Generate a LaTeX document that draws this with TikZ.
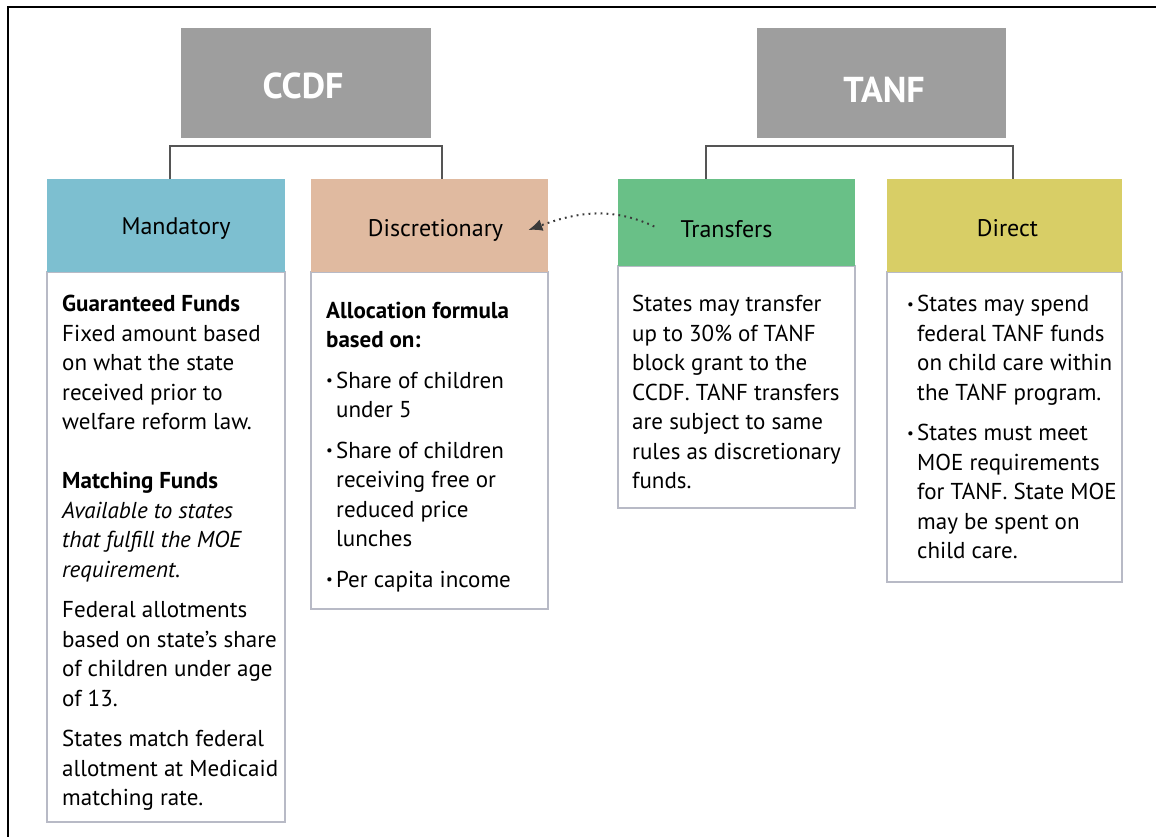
\documentclass[tikz,border=0pt]{standalone}
\usepackage{fontspec}
\setmainfont{PT Sans}
\usetikzlibrary{arrows.meta}
\definecolor{topgray}{HTML}{9E9E9E}
\definecolor{mandblue}{HTML}{7DBFD0}
\definecolor{discpeach}{HTML}{E0BAA0}
\definecolor{transgreen}{HTML}{69C087}
\definecolor{diryellow}{HTML}{D8CE66}
\definecolor{boxedge}{HTML}{B8BAC6}
\definecolor{connline}{HTML}{555555}
\definecolor{arrowgray}{HTML}{3A3A3A}
\newcommand\bodyfont{\fontsize{23}{29.5}\selectfont}
\newcommand\bul{\makebox[10pt][l]{\raisebox{2.5pt}{\fontsize{15}{15}\selectfont\textbullet}}}
\newcommand\ind{\hspace*{10pt}}
\begin{document}
\begin{tikzpicture}[x=1pt,y=-1pt,
  topbox/.style={fill=topgray, draw=none, inner sep=0pt, outer sep=0pt, anchor=north west},
  toplabel/.style={inner sep=0pt, text=white, font=\fontsize{36}{40}\selectfont\bfseries},
  hdrbox/.style={draw=none, inner sep=0pt, outer sep=0pt, anchor=north west},
  bodybox/.style={draw=boxedge, line width=1.3pt, fill=white, inner sep=0pt, outer sep=0pt, anchor=north west},
  hdrlabel/.style={inner sep=0pt, font=\fontsize{24}{28}\selectfont},
  bodytext/.style={inner sep=0pt, anchor=north west, align=left, font=\bodyfont},
  conn/.style={draw=connline, line width=1.4pt},
  transferarrow/.style={draw=arrowgray, line width=2pt, dash pattern=on 1.8pt off 4.2pt,
    -{Latex[length=14pt,width=12pt]}}
]
\clip (0,0) rectangle (1156,836);
\fill[white] (0,0) rectangle (1156,836);
% outer frame (right and bottom edges lie outside the picture)
\draw[line width=1.6pt, black] (8,840) -- (8,7) -- (1160,7);

% top boxes
\node[topbox, minimum width=250pt, minimum height=110pt] (ccdf) at (181,28) {};
\node[topbox, minimum width=249pt, minimum height=110pt] (tanf) at (757,28) {};
\node[toplabel] (ccdfL) at (303,86) {CCDF};
\node[toplabel] (tanfL) at (884,89.5) {TANF};

% body boxes
\node[bodybox, minimum width=238pt, minimum height=550pt] (mandB) at (47,272) {};
\node[bodybox, minimum width=237pt, minimum height=337pt] (discB) at (311,272) {};
\node[bodybox, minimum width=237pt, minimum height=242pt] (transB) at (618,266) {};
\node[bodybox, minimum width=235pt, minimum height=310pt] (dirB) at (887,272) {};

% header boxes
\node[hdrbox, fill=mandblue, minimum width=238pt, minimum height=93pt] (mandH) at (47,179) {};
\node[hdrbox, fill=discpeach, minimum width=237pt, minimum height=93pt] (discH) at (311,179) {};
\node[hdrbox, fill=transgreen, minimum width=237pt, minimum height=87pt] (transH) at (618,179) {};
\node[hdrbox, fill=diryellow, minimum width=235pt, minimum height=93pt] (dirH) at (887,179) {};

% header labels
\node[hdrlabel] (mandL) at (176,229) {Mandatory};
\node[hdrlabel] (discL) at (435.5,230.5) {Discretionary};
\node[hdrlabel] (transL) at (726.5,229.5) {Transfers};
\node[hdrlabel] (dirL) at (1007.5,228.5) {Direct};

% connectors
\draw[conn] ([xshift=4pt]mandH.north) |- ([yshift=-8pt]ccdf.south) -| ([xshift=12.5pt]discH.north);
\draw[conn] ([xshift=-30.5pt]transH.north) |- ([yshift=-8pt]tanf.south) -| ([xshift=8.5pt]dirH.north);

% transfer arrow
\coordinate (arrowstart) at ([xshift=-26pt,yshift=3pt]transL.west);
\draw[transferarrow] (arrowstart) to[out=155,in=20] ([xshift=25pt,yshift=0.5pt]discL.east);

% body texts
\node[bodytext] (mandT) at (62,295) {%
\textbf{Guaranteed Funds}\\
Fixed amount based\\
on what the state\\
received prior to\\
welfare reform law.\\[29.5pt]
\textbf{Matching Funds}\\
\textit{Available to states}\\
\textit{that fulfill the MOE}\\
\textit{requirement}.\\[11pt]
Federal allotments\\
based on state’s share\\
of children under age\\
of 13.\\[11pt]
States match federal\\
allotment at Medicaid\\
matching rate.};

\node[bodytext] (discT) at (326,301.5) {%
\textbf{Allocation formula}\\
\textbf{based on:}\\[11pt]
\bul Share of children\\
\ind under 5\\[11pt]
\bul Share of children\\
\ind receiving free or\\
\ind reduced price\\
\ind lunches\\[11pt]
\bul Per capita income};

\node[bodytext] (transT) at (632,295) {%
States may transfer\\
up to 30\% of TANF\\
block grant to the\\
CCDF. TANF transfers\\
are subject to same\\
rules as discretionary\\
funds.};

\node[bodytext] (dirT) at (907,295) {%
\bul States may spend\\
\ind federal TANF funds\\
\ind on child care within\\
\ind the TANF program.\\[11pt]
\bul States must meet\\
\ind MOE requirements\\
\ind for TANF. State MOE\\
\ind may be spent on\\
\ind child care.};
\end{tikzpicture}
\end{document}
